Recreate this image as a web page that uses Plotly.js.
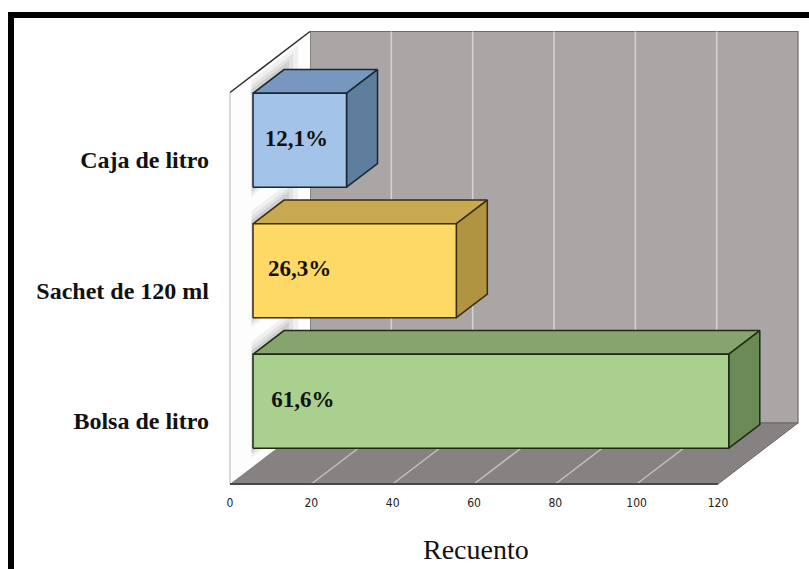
<!DOCTYPE html>
<html>
<head>
<meta charset="utf-8">
<script src="https://cdn.plot.ly/plotly-3.0.1.min.js"></script>
<style>html,body{margin:0;padding:0;background:#fff;}#chart{width:809px;height:569px;}</style>
</head>
<body>
<div id="chart"></div>
<script>
// ---- data ----
const categories = ['Bolsa de litro', 'Sachet de 120 ml', 'Caja de litro'];
const counts = [117, 50, 23];
const percentLabels = ['61,6%', '26,3%', '12,1%'];
const xTickVals = [0, 20, 40, 60, 80, 100, 120];
const xTickText = ['0', '20', '40', '60', '80', '100', '120'];
const axisMax = 120;
const axisTitle = 'Recuento';

// ---- styling / projection (pixel-based oblique 3D) ----
const frontFace = ['#a9d08e', '#ffd966', '#a3c3e8'];
const topFace   = ['#87a46e', '#c8a94f', '#7797bf'];
const sideFace  = ['#6c8a57', '#b19440', '#5f7d9c'];
const edgeCol   = ['#1e2a14', '#3a2e10', '#1a2633'];

const PX_PER_UNIT = 488 / 120;   // px per count on the front plane
const DEPTH_X = 80 / PX_PER_UNIT; // depth shift in x units
const DEPTH_Y = 61;               // depth shift in y units (px)
const BAND = 130.5;               // category band height (px units)
const BAR_FRAC = 0.72;
const D0 = 0.2875, D1 = 0.675;    // bar depth span
const H = BAND * categories.length;

function P(v, h, d) { return [v + d * DEPTH_X, h + d * DEPTH_Y]; }
function poly(pts) {
  const xs = [], ys = [];
  pts.forEach(p => { const q = P(p[0], p[1], p[2]); xs.push(q[0]); ys.push(q[1]); });
  xs.push(xs[0]); ys.push(ys[0]);
  return {x: xs, y: ys};
}
function area(pts, fill, lineColor, lineWidth) {
  const c = poly(pts);
  return {type: 'scatter', mode: 'lines', x: c.x, y: c.y, fill: 'toself', fillcolor: fill,
    line: {color: lineColor || fill, width: lineWidth === undefined ? 1 : lineWidth},
    hoverinfo: 'skip', showlegend: false};
}
function segs(list, color, width) {
  const xs = [], ys = [];
  list.forEach(s => {
    const a = P(s[0][0], s[0][1], s[0][2]), b = P(s[1][0], s[1][1], s[1][2]);
    xs.push(a[0], b[0], null); ys.push(a[1], b[1], null);
  });
  return {type: 'scatter', mode: 'lines', x: xs, y: ys, line: {color: color, width: width},
    hoverinfo: 'skip', showlegend: false, connectgaps: false};
}

const traces = [];
// back wall
traces.push(area([[0,0,1],[axisMax,0,1],[axisMax,H,1],[0,H,1]], '#aba6a6', '#6e6a6a', 1.2));
// floor
traces.push(area([[0,0,0],[axisMax,0,0],[axisMax,0,1],[0,0,1]], '#868282', '#6a6666', 1));
// left wall
traces.push(area([[0,0,0],[0,H,0],[0,H,1],[0,0,1]], '#fdfdfd', '#fdfdfd', 0));
// grid lines on back wall and floor
const gridV = xTickVals.filter(v => v > 0 && v < axisMax);
traces.push(segs(gridV.map(v => [[v,0,1],[v,H,1]]), '#d6d3d3', 1.5));
traces.push(segs(gridV.map(v => [[v,0,0],[v,0,1]]), '#c4c1c1', 1.5));
// wall edges
traces.push(segs([[[0,H,0],[0,H,1]]], '#2b2b2b', 1.5));
traces.push(segs([[[0,0,0],[0,H,0]]], '#b5b5b5', 1));
traces.push(segs([[[0,0,0],[axisMax,0,0]]], '#4a4646', 2));

// soft shadows of bars on the left wall
counts.forEach((v, i) => {
  const h0 = BAND * i + BAND * (1 - BAR_FRAC) / 2, h1 = h0 + BAND * BAR_FRAC;
  [[14, 0.05], [9, 0.06], [5, 0.08]].forEach(s => {
    const e = s[0];
    traces.push(area([[0, h0 - e * 0.6, D0 - 0.02], [0, h0 - e * 0.6, D1 + e / 80],
      [0, h1 + e, D1 + e / 80], [0, h1 + e, D0 - 0.02]], 'rgba(0,0,0,' + s[1] + ')', 'rgba(0,0,0,0)', 0));
  });
});

// bars
counts.forEach((v, i) => {
  const h0 = BAND * i + BAND * (1 - BAR_FRAC) / 2, h1 = h0 + BAND * BAR_FRAC;
  traces.push(area([[0,h1,D0],[v,h1,D0],[v,h1,D1],[0,h1,D1]], topFace[i], edgeCol[i], 1.5));
  traces.push(area([[v,h0,D0],[v,h0,D1],[v,h1,D1],[v,h1,D0]], sideFace[i], edgeCol[i], 1.5));
  traces.push(area([[0,h0,D0],[v,h0,D0],[v,h1,D0],[0,h1,D0]], frontFace[i], edgeCol[i], 1.5));
});

// percentage labels on bar front faces
const lab = counts.map((v, i) => {
  const hc = BAND * (i + 0.5);
  return P(4.5 - 0.8 * i, hc, D0);
});
traces.push({type: 'scatter', mode: 'text', x: lab.map(p => p[0]), y: lab.map(p => p[1]),
  text: percentLabels, textposition: 'middle right', cliponaxis: false,
  textfont: {family: 'Liberation Serif, Times New Roman, serif', size: 23, color: '#111'},
  texttemplate: '<b>%{text}</b>', hoverinfo: 'skip', showlegend: false});

const L = 214, R = 805, T = 20, B = 492, FLOOR_PX = 484, X0_PX = 230;
const layout = {
  width: 809, height: 569,
  margin: {l: L, r: 809 - R, t: T, b: 569 - B, pad: 0},
  paper_bgcolor: '#ffffff', plot_bgcolor: 'rgba(0,0,0,0)',
  showlegend: false,
  xaxis: {range: [(L - X0_PX) / PX_PER_UNIT, (R - X0_PX) / PX_PER_UNIT],
    tickvals: xTickVals, ticktext: xTickText, ticks: '', showgrid: false, zeroline: false,
    showline: false, fixedrange: true, ticklabelstandoff: 2,
    tickfont: {family: 'Liberation Sans Narrow, DejaVu Sans Condensed, sans-serif', size: 12, color: '#222'}},
  yaxis: {range: [FLOOR_PX - B, FLOOR_PX - T],
    tickvals: categories.map((c, i) => BAND * (i + 0.5) - 2), ticktext: categories.map(c => '<b>' + c + '</b>'),
    ticks: '', showgrid: false, zeroline: false, showline: false, fixedrange: true, ticklabelstandoff: 4,
    tickfont: {family: 'Liberation Serif, Times New Roman, serif', size: 24, color: '#111'}},
  annotations: [{text: axisTitle, xref: 'x', yref: 'paper', x: 60.5, y: -0.121, yanchor: 'middle',
    showarrow: false, font: {family: 'Liberation Serif, Times New Roman, serif', size: 28, color: '#111'}}],
  shapes: [{type: 'rect', xref: 'paper', yref: 'paper',
    x0: (11 - L) / (R - L), x1: (815 - L) / (R - L), y0: (B - 580) / (B - T), y1: (B - 15) / (B - T),
    line: {color: '#000', width: 6}, fillcolor: 'rgba(0,0,0,0)', layer: 'above'}]
};
Plotly.newPlot('chart', traces, layout, {displayModeBar: false, staticPlot: true});
</script>
</body>
</html>
